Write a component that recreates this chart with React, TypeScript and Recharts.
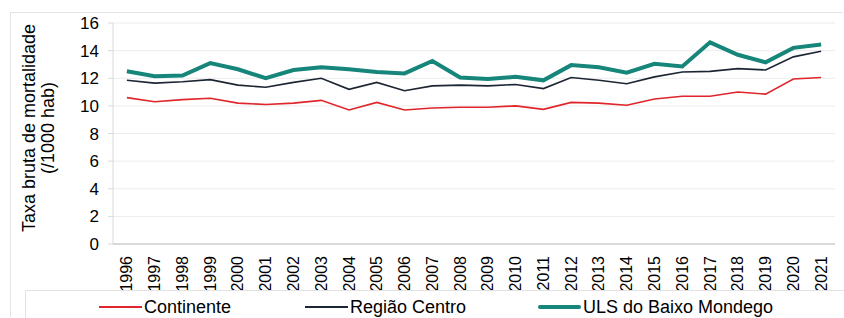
import React from 'react';
import { LineChart, Line, XAxis, YAxis, CartesianGrid } from 'recharts';

// Taxa bruta de mortalidade (/1000 hab), 1996-2021
const years = [
  '1996', '1997', '1998', '1999', '2000', '2001', '2002', '2003', '2004', '2005', '2006', '2007', '2008',
  '2009', '2010', '2011', '2012', '2013', '2014', '2015', '2016', '2017', '2018', '2019', '2020', '2021',
];
const continente = [
  10.6, 10.3, 10.45, 10.55, 10.2, 10.1, 10.2, 10.4, 9.7, 10.25, 9.7, 9.85, 9.9,
  9.9, 10.0, 9.75, 10.25, 10.2, 10.05, 10.5, 10.7, 10.7, 11.0, 10.85, 11.95, 12.05,
];
const regiaoCentro = [
  11.85, 11.65, 11.75, 11.9, 11.5, 11.35, 11.7, 12.0, 11.2, 11.7, 11.1, 11.45, 11.5,
  11.45, 11.55, 11.25, 12.05, 11.85, 11.6, 12.1, 12.45, 12.5, 12.7, 12.6, 13.55, 13.95,
];
const ulsBaixoMondego = [
  12.5, 12.15, 12.2, 13.1, 12.65, 12.0, 12.6, 12.8, 12.65, 12.45, 12.35, 13.25, 12.05,
  11.95, 12.1, 11.85, 12.95, 12.8, 12.4, 13.05, 12.85, 14.6, 13.7, 13.15, 14.2, 14.45,
];
const yTicks = [0, 2, 4, 6, 8, 10, 12, 14, 16];

const series = [
  { key: 'continente', name: 'Continente', color: '#e0252b', width: 1.6 },
  { key: 'centro', name: 'Região Centro', color: '#1c2633', width: 1.6 },
  { key: 'uls', name: 'ULS do Baixo Mondego', color: '#16857a', width: 4 },
];

const data = years.map((year, i) => ({
  idx: i,
  year,
  continente: continente[i],
  centro: regiaoCentro[i],
  uls: ulsBaixoMondego[i],
}));

const font = 'Arial, "Liberation Sans", sans-serif';

// rotated year label, reading bottom to top, ending just under the axis
const YearTick = (props: any) => {
  const x = Number(props.x);
  const y = Number(props.y);
  return (
    <g transform={`translate(${x},${y + 4})`}>
      <text transform="rotate(-90)" textAnchor="end" dominantBaseline="central" fontSize={16} fill="#000">
        {years[props.payload.value]}
      </text>
    </g>
  );
};

const AxisTitle = () => (
  <g fontFamily={font} fontSize={18} fill="#000">
    <text x={29} y={128} transform="rotate(-90 29 128)" textAnchor="middle" dominantBaseline="central">
      Taxa bruta de mortalidade
    </text>
    <text x={48} y={128} transform="rotate(-90 48 128)" textAnchor="middle" dominantBaseline="central">
      (/1000 hab)
    </text>
  </g>
);

export default function App() {
  return (
    <div style={{ position: 'absolute', left: 0, top: 0, width: 844, height: 318, background: '#fff', fontFamily: font }}>
      <div style={{ position: 'absolute', left: 10, top: 12, width: 832, height: 304, borderLeft: '1px solid #e4e4e4', borderTop: '1px solid #e4e4e4' }} />
      <LineChart width={844} height={318} data={data} margin={{ top: 23, right: 9, bottom: 24, left: 53 }} style={{ fontFamily: font }}>
        <CartesianGrid vertical={false} stroke="#ececec" />
        {/* small marks between the years */}
        <XAxis
          xAxisId="sep"
          type="number"
          domain={[0, 26]}
          ticks={Array.from({ length: 27 }, (_, i) => i)}
          tick={false}
          axisLine={false}
          tickLine={{ stroke: '#bdbdbd' }}
          tickSize={5}
          height={0}
          allowDataOverflow
        />
        <XAxis
          dataKey="idx"
          type="number"
          domain={[-0.5, 25.5]}
          ticks={years.map((_, i) => i)}
          tick={YearTick}
          height={50}
          tickLine={false}
          axisLine={{ stroke: '#bdbdbd' }}
        />
        <YAxis
          domain={[0, 16]}
          ticks={yTicks}
          width={60}
          tickSize={5}
          tickMargin={9}
          axisLine={{ stroke: '#d9d9d9' }}
          tickLine={{ stroke: '#d9d9d9' }}
          tick={{ fontSize: 17, fill: '#000', fontFamily: font }}
        />
        {series.map((s) => (
          <Line
            key={s.key}
            type="linear"
            dataKey={s.key}
            name={s.name}
            stroke={s.color}
            strokeWidth={s.width}
            dot={false}
            isAnimationActive={false}
          />
        ))}
        <AxisTitle />
      </LineChart>
      <div style={{ position: 'absolute', left: 25, top: 290, width: 818, height: 27, borderTop: '1px solid #e2e2e2', borderLeft: '1px solid #e2e2e2' }} />
      {series.map((s, i) => {
        const left = [99, 305, 538][i];
        return (
          <div
            key={s.key}
            style={{
              position: 'absolute',
              left,
              top: 296,
              height: 22,
              display: 'flex',
              alignItems: 'center',
              fontSize: 18,
              color: '#000',
              whiteSpace: 'nowrap',
            }}
          >
            <span style={{ display: 'inline-block', width: 43, height: s.width, background: s.color, marginRight: 2, borderRadius: s.width > 2 ? 2 : 0 }} />
            {s.name}
          </div>
        );
      })}
    </div>
  );
}
